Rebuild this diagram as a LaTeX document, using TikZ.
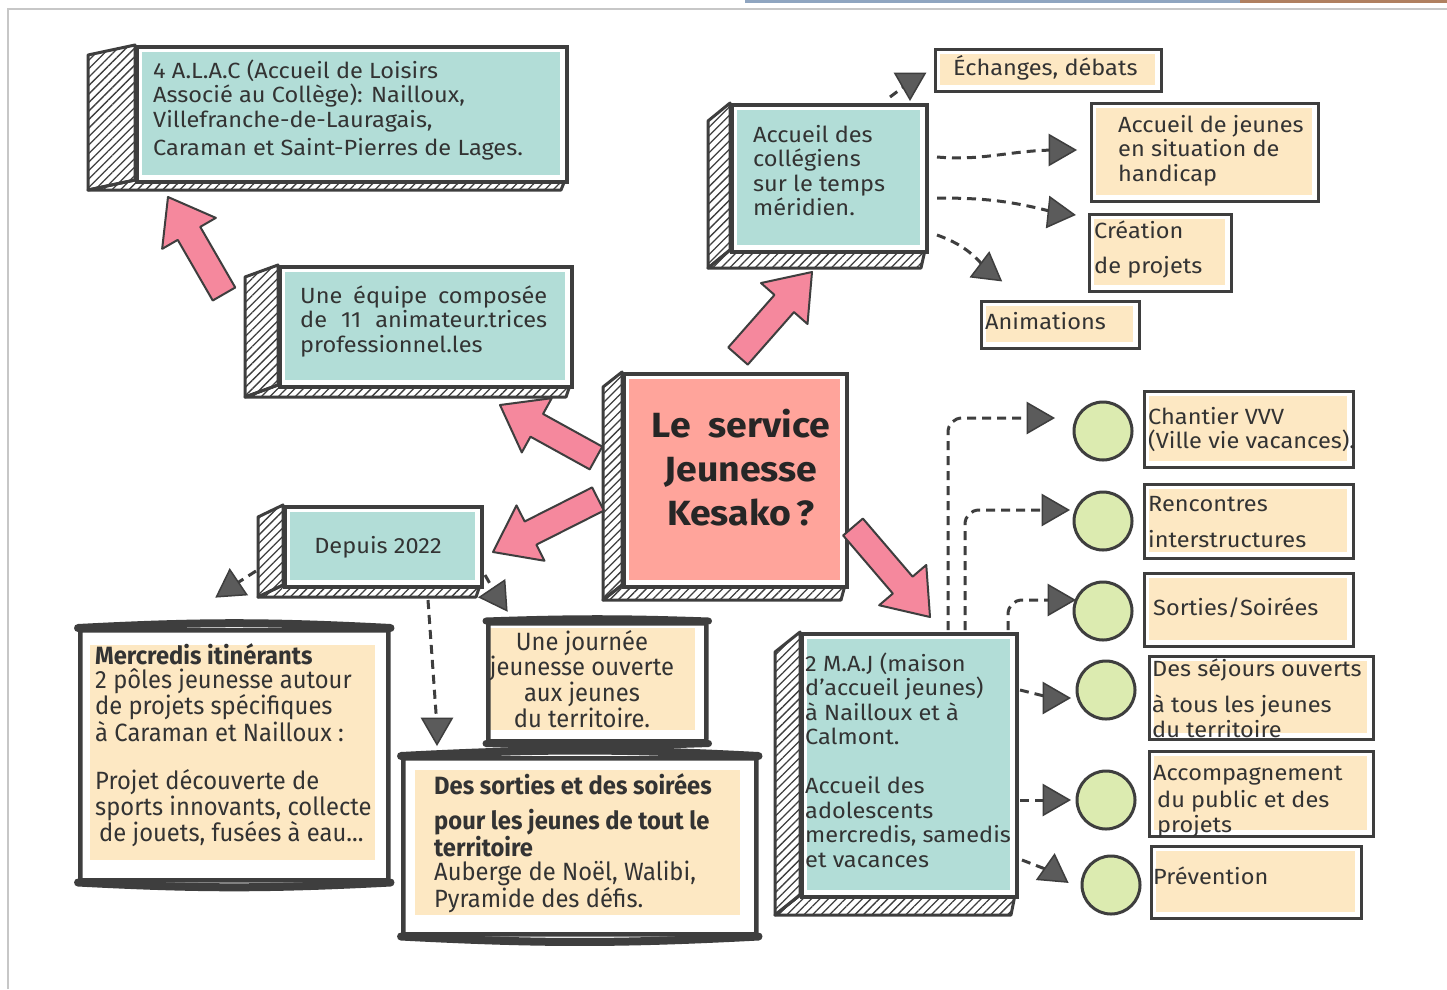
\documentclass[tikz,border=0pt]{standalone}
\usepackage{fontspec}
\setmainfont{Fira Sans}[FakeStretch=1.07]
\newfontfamily\condf[FakeStretch=0.95]{Fira Sans}
\usetikzlibrary{patterns.meta,calc,shapes.geometric}
\definecolor{dk}{HTML}{3E3E3E}
\definecolor{tx}{HTML}{333333}
\definecolor{tealc}{HTML}{B2DDD7}
\definecolor{orc}{HTML}{FDE8C3}
\definecolor{salc}{HTML}{FFA49B}
\definecolor{pinkc}{HTML}{F5889D}
\definecolor{grnc}{HTML}{DCEBB0}
\definecolor{photoA}{HTML}{8FA5C0}
\definecolor{photoB}{HTML}{B08060}
\newcommand\tdbox[8]{% name x1 y1 x2 y2 dx dy color
  \draw[face,hatch] (#2,#3) -- ({#2-#6},{#3+#7}) -- ({#2-#6},{#5+#7}) -- (#2,#5) -- cycle;
  \draw[face,hatch] (#2,#5) -- ({#2-#6},{#5+#7}) -- ({#4-4},{#5+#7}) -- (#4,#5) -- cycle;
  \node[front, minimum width={(#4-#2)*1pt}, minimum height={(#5-#3)*1pt}] (#1) at (#2,#3) {};
  \fill[#8] ({#2+7},{#3+7}) rectangle ({#4-5},{#5-5});
}
\newcommand\obx[5]{% name x1 y1 x2 y2
  \fill[orc] ({#2+6},{#3+6}) rectangle ({#4-5},{#5-5});
  \node[obox, minimum width={(#4-#2)*1pt}, minimum height={(#5-#3)*1pt}] (#1) at (#2,#3) {};
}
\newcommand\pinkarrow[2]{% tail head
  \coordinate (nk) at ($(#2)!42pt!(#1)$);
  \draw[pinkarr] ($(#1)!13pt!90:(#2)$) -- ($(nk)!13pt!90:(#2)$) -- ($(nk)!31pt!90:(#2)$) -- (#2)
    -- ($(nk)!31pt!-90:(#2)$) -- ($(nk)!13pt!-90:(#2)$) -- ($(#1)!13pt!-90:(#2)$) -- cycle;
}
\newcommand\tl[2]{\parbox[t]{#1}{\raggedright #2}}
\newcommand\tcn[2]{\parbox[t]{#1}{\centering #2}}
\begin{document}
\begin{tikzpicture}[x=1pt,y=-1pt,
  hatch/.style={pattern={Lines[angle=45,distance=6pt,line width=1.3pt]}, pattern color=dk},
  face/.style={draw=dk, line width=3pt, line join=round},
  front/.style={draw=dk, line width=3.5pt, fill=white, inner sep=0, anchor=north west},
  obox/.style={draw=dk, line width=3pt, inner sep=0, anchor=north west},
  fbox/.style={draw=dk, line width=4.5pt, inner sep=0, anchor=north west, rounded corners=2pt},
  txt/.style={inner sep=0, anchor=base west, text=tx, font=\fontsize{22}{24.5}\selectfont},
  ctxt/.style={inner sep=0, anchor=base, text=tx, font=\fontsize{22}{24.5}\selectfont},
  cnd/.style={inner sep=0, text=tx, font=\condf\fontsize{25}{24.5}\selectfont},
  tri/.style={regular polygon, regular polygon sides=3, fill=dk!85, draw=dk, line width=1.5pt, minimum size=35pt, inner sep=0},
  dashln/.style={draw=dk, line width=3pt, dash pattern=on 9pt off 6pt, rounded corners=14pt},
  pinkarr/.style={fill=pinkc, draw=dk, line width=2pt, line join=round},
  gcirc/.style={circle, fill=grnc, draw=dk, line width=3pt, minimum size=58pt, inner sep=0}]
\useasboundingbox (0,0) rectangle (1447,989);
\fill[white] (0,0) rectangle (1447,989);
\fill[photoA] (745,0) rectangle (1240,3);
\fill[photoB] (1240,0) rectangle (1447,3);
\draw[black!22, line width=1.5pt] (8,989) -- (8,9) -- (1447,9);

% ---------- 3D boxes ----------
\tdbox{alac}{135}{45}{565}{180}{47}{10}{tealc}
\tdbox{equipe}{278}{265}{570}{385}{33}{12}{tealc}
\tdbox{centre}{622}{372}{845}{585}{19}{15}{salc}
\tdbox{coll}{730}{103}{925}{250}{22}{18}{tealc}
\tdbox{depuis}{283}{505}{480}{585}{25}{12}{tealc}
\tdbox{maj}{800}{632}{1015}{895}{25}{20}{tealc}

% ---------- orange boxes ----------
\obx{ech}{934}{48}{1160}{90}
\obx{hand}{1090}{102}{1317}{200}
\obx{crea}{1088}{213}{1230}{290}
\obx{anim}{980}{300}{1138}{347}
\obx{vvv}{1143}{390}{1352}{466}
\obx{renc}{1143}{483}{1352}{557}
\obx{sort}{1143}{572}{1352}{645}
\obx{sej}{1148}{655}{1372}{738}
\obx{accp}{1148}{750}{1372}{835}
\obx{prev}{1150}{845}{1360}{917}

% ---------- bottom-left framed boxes ----------
\fill[orc] (90,645) rectangle (375,860);
\node[fbox, minimum width=308pt, minimum height=250pt] (merc) at (78,628) {};
\draw[dk, line width=8pt, line cap=round] (merc.north west) to[bend left=3] (merc.north east);
\draw[dk, line width=8pt, line cap=round] (merc.south west) to[bend right=3] (merc.south east);
\fill[orc] (490,628) rectangle (695,730);
\node[fbox, minimum width=218pt, minimum height=118pt] (journee) at (486,621) {};
\draw[dk, line width=7pt, line cap=round] (journee.north west) to[bend left=2] (journee.north east);
\draw[dk, line width=7pt, line cap=round] (journee.south west) to[bend right=2] (journee.south east);
\fill[orc] (415,770) rectangle (740,915);
\node[fbox, minimum width=353pt, minimum height=176pt] (sorties) at (401,756) {};
\draw[dk, line width=8pt, line cap=round] (sorties.north west) to[bend left=3] (sorties.north east);
\draw[dk, line width=8pt, line cap=round] (sorties.south west) to[bend right=3] (sorties.south east);

% ---------- green circles ----------
\node[gcirc] (g1) at (1103,431) {};
\node[gcirc] (g2) at (1103,521) {};
\node[gcirc] (g3) at (1103,611) {};
\node[gcirc] (g4) at (1106,690) {};
\node[gcirc] (g5) at (1106,800) {};
\node[gcirc] (g6) at (1111,885) {};

% ---------- dashed connectors ----------
\coordinate (s1) at (890,97);
\coordinate (s2) at (937,157);
\coordinate (s3) at (937,198);
\coordinate (s4) at (937,235);
\coordinate (s5) at (948,630);
\coordinate (s6) at (965,630);
\coordinate (s7) at (1008,630);
\coordinate (s8) at (1020,690);
\coordinate (s9) at (1020,800);
\coordinate (s10) at (1022,860);
\coordinate (s11) at (256,571);
\coordinate (s12) at (485,575);
\coordinate (s13) at (428,600);
\coordinate (p1) at (910,82);
\coordinate (p2) at (1058,150);
\coordinate (p3) at (1057,213);
\coordinate (p4) at (987,270);
\coordinate (p5) at (1036,418);
\coordinate (p6) at (1051,510);
\coordinate (p7) at (1057,600);
\coordinate (p8) at (1052,698);
\coordinate (p9) at (1052,800);
\coordinate (p10) at (1053,872);
\coordinate (p11) at (231,587);
\coordinate (p12) at (497,596);
\coordinate (p13) at (437,727);
\draw[dashln] (s1) -- (p1);
\draw[dashln] (s2) to[out=-5,in=180] (p2);
\draw[dashln] (s3) to[out=0,in=165] (p3);
\draw[dashln] (s4) to[out=-20,in=130] (p4);
\draw[dashln] (s5) |- (p5);
\draw[dashln] (s6) |- (p6);
\draw[dashln] (s7) |- (p7);
\draw[dashln] (s8) -- (p8);
\draw[dashln] (s9) -- (p9);
\draw[dashln] (s10) -- (p10);
\draw[dashln] (s11) -- (p11);
\draw[dashln] (s12) -- (p12);
\draw[dashln] (s13) -- (p13);
\node[tri, shape border rotate=180] (t1) at (p1) {};
\node[tri, shape border rotate=-90] (t2) at (p2) {};
\node[tri, shape border rotate=-96] (t3) at (p3) {};
\node[tri, shape border rotate=-7] (t4) at (p4) {};
\node[tri, shape border rotate=-90] (t5) at (p5) {};
\node[tri, shape border rotate=-90] (t6) at (p6) {};
\node[tri, shape border rotate=-90] (t7) at (p7) {};
\node[tri, shape border rotate=-90] (t8) at (p8) {};
\node[tri, shape border rotate=-90] (t9) at (p9) {};
\node[tri, shape border rotate=-5] (t10) at (p10) {};
\node[tri, shape border rotate=4] (t11) at (p11) {};
\node[tri, shape border rotate=94] (t12) at (p12) {};
\node[tri, shape border rotate=180] (t13) at (p13) {};

% ---------- pink arrows ----------
\coordinate (a1t) at (224,294); \coordinate (a1h) at (168,197);
\coordinate (a2t) at (596,458); \coordinate (a2h) at (500,405);
\coordinate (a3t) at (598,499); \coordinate (a3h) at (493,552);
\coordinate (a4t) at (738,356); \coordinate (a4h) at (812,272);
\coordinate (a5t) at (853,527); \coordinate (a5h) at (930,617);
\pinkarrow{a1t}{a1h}
\pinkarrow{a2t}{a2h}
\pinkarrow{a3t}{a3h}
\pinkarrow{a4t}{a4h}
\pinkarrow{a5t}{a5h}

% ---------- texts ----------
\node[txt] (alacT) at (153,78) {\tl{440pt}{4 A.L.A.C (Accueil de Loisirs\\ Associé au Collège): Nailloux,\\ Villefranche-de-Lauragais,\\[4pt] Caraman et Saint-Pierres de Lages.}};
\node[txt] (equipeT) at (300,303) {\parbox[t]{247pt}{Une équipe composée\linebreak de 11 animateur.trices\linebreak professionnel.les}};
\node[inner sep=0, anchor=base, text=black!85, font=\bfseries\fontsize{35}{44}\selectfont] (centreT) at (741,437) {\tcn{240pt}{Le\ \ service\\ Jeunesse\\ Kesako\,?}};
\node[txt] (collT) at (753,142) {\tl{175pt}{Accueil des\\ collégiens\\ sur le temps\\ méridien.}};
\node[ctxt] (depuisT) at (378,553) {Depuis 2022};
\node[txt] (echT) at (953,75) {Échanges, débats};
\node[txt] (handT) at (1118,132) {\tl{210pt}{Accueil de jeunes\\ en situation de\\ handicap}};
\node[txt] (creaT) at (1094,238) {\tl{140pt}{Création\\[11pt] de projets}};
\node[txt] (animT) at (985,329) {Animations};
\node[txt] (vvvT) at (1148,424) {\tl{240pt}{Chantier VVV\\ (Ville vie vacances).}};
\node[txt] (rencT) at (1148,511) {\tl{210pt}{Rencontres\\[12pt] interstructures}};
\node[txt] (sortT) at (1153,615) {Sorties/Soirées};
\node[txt] (sejT) at (1152,676) {\tl{240pt}{Des séjours ouverts\\[12pt] à tous les jeunes\\ du territoire}};
\node[txt] (accT) at (1153,780) {\tl{240pt}{Accompagnement\\[3pt] \hspace*{4pt}du public et des\\ \hspace*{4pt}projets}};
\node[txt] (prevT) at (1153,884) {Prévention};
\node[txt] (majT) at (805,671) {\tl{240pt}{2 M.A.J (maison\\ d’accueil jeunes)\\ à Nailloux et à\\ Calmont.\\[24.5pt] Accueil des\\ adolescents\\ mercredis, samedis\\ et vacances}};
\node[cnd, anchor=base west] (mercT) at (95,664) {\tl{320pt}{\textbf{Mercredis itinérants}\\ 2 pôles jeunesse autour\\ de projets spécifiques\\ à Caraman et Nailloux :\\[24pt] Projet découverte de\\ sports innovants, collecte\\ \hspace*{4pt}de jouets, fusées à eau...}};
\node[cnd, anchor=base] (journeeT) at (582,650) {\tcn{240pt}{Une journée\\ jeunesse ouverte\\ aux jeunes\\ du territoire.}};
\node[cnd, anchor=base west] (sortiesT) at (434,794) {\tl{340pt}{\textbf{Des sorties et des soirées}\\[11pt] \textbf{pour les jeunes de tout le}\\ \textbf{territoire}\\ Auberge de Noël, Walibi,\\ Pyramide des défis.}};
\end{tikzpicture}
\end{document}
